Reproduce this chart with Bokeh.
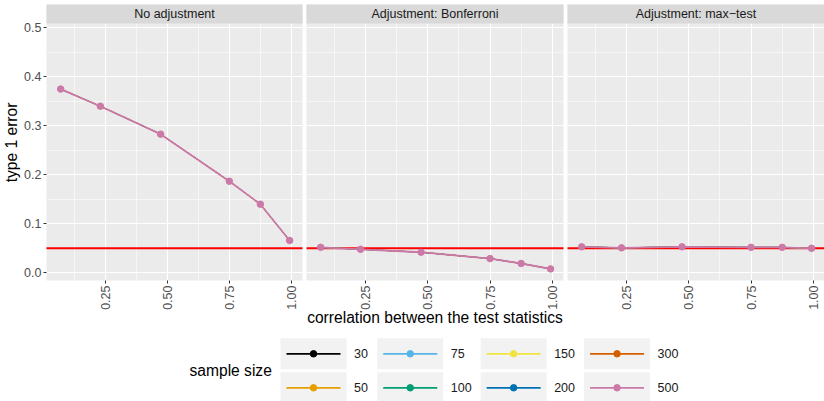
import math
from bokeh.plotting import figure
from bokeh.layouts import row, column
from bokeh.models import Range1d, FixedTicker
from bokeh.core.properties import value
from bokeh.embed import file_html
from bokeh.resources import INLINE

# ---------------- data ----------------
panels = ["No adjustment", "Adjustment: Bonferroni", "Adjustment: max\u2212test"]
correlation = [0.07, 0.23, 0.473, 0.75, 0.875, 0.993]
err_none = [0.375, 0.340, 0.283, 0.187, 0.140, 0.066]
err_bonferroni = [0.052, 0.048, 0.042, 0.029, 0.019, 0.008]
err_maxtest = [0.053, 0.051, 0.053, 0.052, 0.052, 0.050]
sample_sizes = [30, 50, 75, 100, 150, 200, 300, 500]
colors = ["#000000", "#E69F00", "#56B4E9", "#009E73",
          "#F0E442", "#0072B2", "#D55E00", "#CC79A7"]
alpha_level = 0.05
x_ticks = [0.25, 0.50, 0.75, 1.00]
x_tick_labels = ["0.25", "0.50", "0.75", "1.00"]
y_ticks = [0.0, 0.1, 0.2, 0.3, 0.4, 0.5]
y_tick_labels = ["0.0", "0.1", "0.2", "0.3", "0.4", "0.5"]
x_title = "correlation between the test statistics"
y_title = "type 1 error"
legend_title = "sample size"

panel_errors = [err_none, err_bonferroni, err_maxtest]

FONT = "Liberation Sans"
SMALL = "12.5px"
BIG = "15.6px"
PANEL_BG = "#EBEBEB"
STRIP_BG = "#D9D9D9"

X_RANGE = (0.013, 1.045)
Y_BOTTOM = -0.0157
Y_PANEL_TOP = 0.5088
Y_STRIP_TOP = 0.5476

TOP = 4
FRAME_H = 276
BOTTOM = 50
FIG_H = TOP + FRAME_H + BOTTOM

widths = [304, 261, 259]
borders = [(44, 2), (2, 2), (2, 0)]

figs = []
for i, (title, errs) in enumerate(zip(panels, panel_errors)):
    lb, rb = borders[i]
    p = figure(width=widths[i], height=FIG_H, output_backend="svg",
               toolbar_location=None,
               x_range=Range1d(*X_RANGE), y_range=Range1d(Y_BOTTOM, Y_STRIP_TOP),
               min_border_left=lb, min_border_right=rb,
               min_border_top=TOP, min_border_bottom=BOTTOM)
    p.background_fill_color = PANEL_BG
    p.border_fill_color = "white"
    p.outline_line_color = None

    # grid
    p.xaxis.ticker = FixedTicker(ticks=x_ticks, minor_ticks=[0.125, 0.375, 0.625, 0.875])
    p.yaxis.ticker = FixedTicker(ticks=y_ticks,
                                 minor_ticks=[0.05, 0.15, 0.25, 0.35, 0.45])
    for g in (p.xgrid, p.ygrid):
        g.grid_line_color = "white"
        g.grid_line_width = 1.1
        g.minor_grid_line_color = "white"
        g.minor_grid_line_width = 0.55

    # axes
    for ax in (p.xaxis, p.yaxis):
        ax.axis_line_color = None
        ax.major_tick_line_color = "#333333"
        ax.major_tick_out = 3
        ax.major_tick_in = 0
        ax.minor_tick_line_color = None
        ax.major_label_text_font = FONT
        ax.major_label_text_font_size = SMALL
        ax.major_label_text_color = "#4D4D4D"
        ax.major_label_standoff = 1
        ax.axis_label_text_font = FONT
        ax.axis_label_text_font_size = BIG
        ax.axis_label_text_font_style = "normal"
        ax.axis_label_text_color = "black"
        ax.axis_label_standoff = 1
    p.xaxis.axis_label_standoff = -4
    p.xaxis.major_label_orientation = math.pi / 2
    p.xaxis.major_label_overrides = {t: l for t, l in zip(x_ticks, x_tick_labels)}
    p.yaxis.major_label_overrides = {t: l for t, l in zip(y_ticks, y_tick_labels)}
    if i == 0:
        p.yaxis.axis_label = y_title
    else:
        p.yaxis.visible = False
    # x title shown once (middle panel); blank labels keep the other axes equally tall
    p.xaxis.axis_label = x_title if i == 1 else "\u00a0"

    # reference line
    p.line(x=[-1, 2], y=[alpha_level, alpha_level], line_color="#FF0000", line_width=2)

    # series (all sample sizes overlap; 500 drawn last and on top)
    for n, c in zip(sample_sizes, colors):
        top = (n == sample_sizes[-1])
        p.line(x=correlation, y=errs, line_color=c, line_width=1.8 if top else 0.8)
        p.scatter(x=correlation, y=errs, size=6.5 if top else 4,
                  fill_color=c, line_color=c if top else None)

    # facet strip
    p.quad(left=-1, right=2, bottom=Y_PANEL_TOP, top=1.0,
           fill_color=STRIP_BG, line_color=None)
    p.text(x=[(X_RANGE[0] + X_RANGE[1]) / 2], y=[(Y_PANEL_TOP + Y_STRIP_TOP) / 2],
           text=[title], text_font=value(FONT), text_font_size=SMALL,
           text_color="#1A1A1A", text_align="center", text_baseline="middle")
    figs.append(p)

# ---------------- legend ----------------
LEG_H = 401 - FIG_H
leg = figure(width=824, height=LEG_H, output_backend="svg", toolbar_location=None,
             x_range=Range1d(0, 824), y_range=Range1d(LEG_H, 0),
             min_border=0, min_border_left=0, min_border_right=0,
             min_border_top=0, min_border_bottom=0)
leg.axis.visible = False
leg.grid.visible = False
leg.outline_line_color = None
leg.background_fill_color = "white"
leg.border_fill_color = "white"

y_off = FIG_H
leg.text(x=[189], y=[370 - y_off], text=[legend_title], text_font=value(FONT),
         text_font_size=BIG, text_color="black", text_baseline="middle")

key_w, key_h = 66, 31
row_centers = [353.3 - y_off, 387.3 - y_off]
x0 = 280.0
ncol = 4
for col in range(ncol):
    items = list(range(col * 2, col * 2 + 2))
    label_w = max(len(str(sample_sizes[k])) for k in items) * 6.67
    for r, k in enumerate(items):
        yc = row_centers[r]
        leg.quad(left=[x0], right=[x0 + key_w], top=[yc - key_h / 2], bottom=[yc + key_h / 2],
                 fill_color="#F2F2F2", line_color=None)
        leg.line(x=[x0 + 6, x0 + key_w - 6], y=[yc, yc], line_color=colors[k], line_width=1.8)
        leg.scatter(x=[x0 + key_w / 2], y=[yc], size=6.5, fill_color=colors[k],
                    line_color=colors[k])
        leg.text(x=[x0 + key_w + 7.5], y=[yc], text=[str(sample_sizes[k])],
                 text_font=value(FONT), text_font_size=SMALL, text_color="#1A1A1A",
                 text_baseline="middle")
    x0 += key_w + 7 + label_w + 10.4

layout = column(row(*figs), leg)
open("out.html", "w").write(file_html(layout, INLINE))
